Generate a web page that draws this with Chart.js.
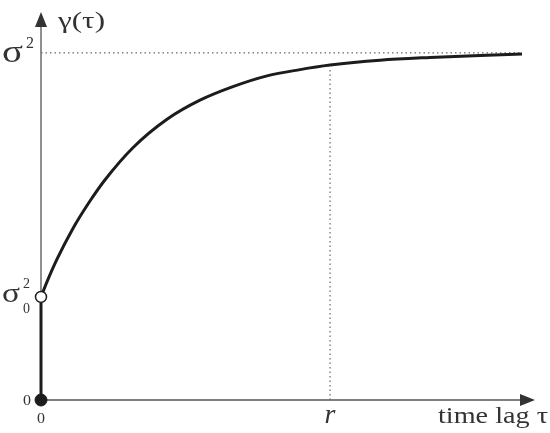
<!DOCTYPE HTML>
<html>
<head>
  <script src="https://cdn.jsdelivr.net/npm/chart.js"></script>
  <style>
    body { margin: 0; background: #fff; }
  </style>
</head>
<body>
  <canvas id="variogramChart" width="550" height="433"></canvas>

  <script>
    // time lag in units of the range r, semivariance in units of the sill
    var lags = [0, 0.021, 0.055, 0.111, 0.170, 0.221, 0.318, 0.436, 0.550, 0.664, 0.782, 0.896, 1.0, 1.173, 1.346, 1.519, 1.664];
    var gammaValues = [0.297, 0.341, 0.405, 0.495, 0.574, 0.634, 0.727, 0.809, 0.864, 0.903, 0.934, 0.952, 0.965, 0.979, 0.987, 0.993, 0.997];
    var sill = 1;
    var nugget = 0.297;
    var range = 1;
    var xMax = 1.709;
    var yMax = 1.118;

    var curvePoints = lags.map(function (t, i) { return { x: t, y: gammaValues[i] }; });

    var ink = '#1c1c1c';
    var axisColor = '#555';
    var serif = '"Liberation Serif", "DejaVu Serif", serif';

    // draw text stretched sideways to a given width (the reference lettering is wide)
    function wideText(ctx, str, font, left, baseline, width) {
      ctx.font = font;
      var w = ctx.measureText(str).width;
      var sx = width ? width / w : 1;
      ctx.save();
      ctx.translate(left, baseline);
      ctx.scale(sx, 1);
      ctx.textAlign = 'left';
      ctx.fillText(str, 0, 0);
      ctx.restore();
    }

    // axes with arrow heads and the labels
    var axesPlugin = {
      id: 'axesPlugin',
      beforeDatasetsDraw: function (chart) {
        var ctx = chart.ctx;
        var xs = chart.scales.x, ys = chart.scales.y;
        var x0 = xs.getPixelForValue(0), y0 = ys.getPixelForValue(0);
        var xEnd = xs.getPixelForValue(xMax), yTop = ys.getPixelForValue(yMax);
        ctx.save();
        ctx.strokeStyle = axisColor;
        ctx.fillStyle = '#333';
        ctx.lineWidth = 1.3;
        ctx.beginPath();
        ctx.moveTo(x0, y0);
        ctx.lineTo(x0, yTop + 12);
        ctx.moveTo(x0, y0);
        ctx.lineTo(xEnd - 12, y0);
        ctx.stroke();
        ctx.beginPath();
        ctx.moveTo(x0, yTop);
        ctx.lineTo(x0 - 6, yTop + 15);
        ctx.lineTo(x0 + 6, yTop + 15);
        ctx.closePath();
        ctx.fill();
        ctx.beginPath();
        ctx.moveTo(xEnd, y0);
        ctx.lineTo(xEnd - 15, y0 - 6);
        ctx.lineTo(xEnd - 15, y0 + 6);
        ctx.closePath();
        ctx.fill();
        ctx.restore();
      },
      afterDraw: function (chart) {
        var ctx = chart.ctx;
        var xs = chart.scales.x, ys = chart.scales.y;
        var x0 = xs.getPixelForValue(0), y0 = ys.getPixelForValue(0);
        var ySill = ys.getPixelForValue(sill), yNug = ys.getPixelForValue(nugget);
        ctx.save();
        ctx.fillStyle = '#333';
        ctx.textBaseline = 'alphabetic';

        wideText(ctx, 'γ(τ)', '24px ' + serif, x0 + 17, 28, 47);

        wideText(ctx, 'σ', '31px ' + serif, 2, ySill + 9, 21);
        wideText(ctx, '2', '16px ' + serif, 26, ySill - 5, 8);

        wideText(ctx, 'σ', '27px ' + serif, 2, yNug + 5, 18);
        wideText(ctx, '2', '15px ' + serif, 23, yNug - 9, 7);
        wideText(ctx, '0', '15px ' + serif, 23, yNug + 16, 7);

        wideText(ctx, '0', '15px ' + serif, x0 - 18, y0 + 5, 8);
        wideText(ctx, '0', '15px ' + serif, x0 - 4, y0 + 23, 8);

        ctx.font = 'italic 28px ' + serif;
        ctx.textAlign = 'center';
        ctx.fillText('r', xs.getPixelForValue(range), y0 + 23);

        wideText(ctx, 'time lag τ', '23px ' + serif, 438, y0 + 23, 110);
        ctx.restore();
      }
    };

    var myContext = document.getElementById('variogramChart').getContext('2d');
    var myChart = new Chart(myContext, {
      type: 'scatter',
      data: {
        datasets: [
          {
            // variogram curve
            data: curvePoints,
            showLine: true,
            borderColor: ink,
            borderWidth: 3,
            pointRadius: 0,
            cubicInterpolationMode: 'monotone',
            order: 3
          },
          {
            // sill
            data: [{ x: 0, y: sill }, { x: lags[lags.length - 1], y: sill }],
            showLine: true,
            borderColor: '#666',
            borderWidth: 1.2,
            borderDash: [1.5, 3],
            pointRadius: 0,
            order: 5
          },
          {
            // range
            data: [{ x: range, y: 0 }, { x: range, y: 0.955 }],
            showLine: true,
            borderColor: '#666',
            borderWidth: 1.2,
            borderDash: [1.5, 3],
            pointRadius: 0,
            order: 5
          },
          {
            // nugget jump
            data: [{ x: 0, y: 0 }, { x: 0, y: nugget }],
            showLine: true,
            borderColor: ink,
            borderWidth: 3,
            pointRadius: 0,
            order: 4
          },
          {
            data: [{ x: 0, y: nugget }],
            pointRadius: 5.5,
            pointBackgroundColor: '#fff',
            pointBorderColor: ink,
            pointBorderWidth: 1.5,
            order: 1
          },
          {
            data: [{ x: 0, y: 0 }],
            pointRadius: 6,
            pointBackgroundColor: ink,
            pointBorderColor: ink,
            order: 1
          }
        ]
      },
      options: {
        responsive: false,
        animation: false,
        layout: { padding: { left: 41, right: 15, top: 12, bottom: 33 } },
        plugins: {
          legend: { display: false },
          tooltip: { enabled: false }
        },
        scales: {
          x: { type: 'linear', min: 0, max: xMax, display: false },
          y: { type: 'linear', min: 0, max: yMax, display: false }
        },
        clip: false
      },
      plugins: [axesPlugin]
    });
  </script>
</body>
</html>
